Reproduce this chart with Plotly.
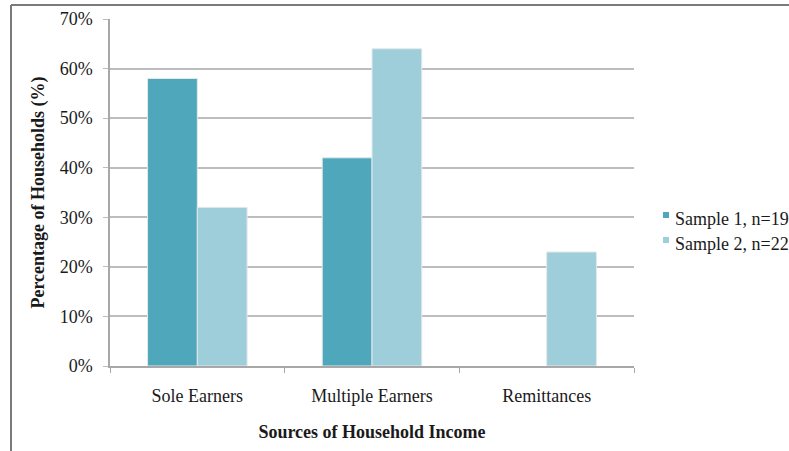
import plotly.graph_objects as go

# Household income sources by sample (percent of households)
categories = ["Sole Earners", "Multiple Earners", "Remittances"]
sample1_values = [58, 42, None]
sample2_values = [32, 64, 23]
series_names = ["Sample 1, n=19", "Sample 2, n=22"]
series_colors = ["#4FA7BB", "#9FCEDB"]
y_ticks = [0, 10, 20, 30, 40, 50, 60, 70]
y_tick_labels = ["0%", "10%", "20%", "30%", "40%", "50%", "60%", "70%"]

FONT = "Liberation Serif, Times New Roman, serif"
W, H = 789, 451
L, R, T, B = 110, 155, 19, 85
pw = W - L - R
ph = H - T - B


def px_x(px):
    return (px - L) / pw


def px_y(py):
    return (H - B - py) / ph


fig = go.Figure()
for vals, name, col in zip([sample1_values, sample2_values], series_names, series_colors):
    fig.add_trace(go.Bar(
        x=categories, y=vals, name=name, showlegend=False,
        marker=dict(color=col, line=dict(color="#E4E9EA", width=1)),
    ))

# legend: small square keys with labels to their right
shapes = []
annotations = []
for i, (name, col) in enumerate(zip(series_names, series_colors)):
    top = 212 + 25 * i
    shapes.append(dict(type="rect", xref="paper", yref="paper",
                       x0=px_x(663), x1=px_x(669), y0=px_y(top + 6), y1=px_y(top),
                       fillcolor=col, line=dict(width=0)))
    annotations.append(dict(xref="paper", yref="paper", x=px_x(673), y=px_y(top + 7),
                            xanchor="left", yanchor="middle", showarrow=False,
                            text=name, font=dict(family=FONT, size=18, color="#1a1a1a")))

# outer frame (left and top edges)
shapes += [
    dict(type="line", xref="paper", yref="paper",
         x0=px_x(11), x1=px_x(W + 5), y0=px_y(5), y1=px_y(5),
         line=dict(color="#7A7A7A", width=2)),
    dict(type="line", xref="paper", yref="paper",
         x0=px_x(11), x1=px_x(11), y0=px_y(5), y1=px_y(H + 5),
         line=dict(color="#7A7A7A", width=2)),
]

fig.update_layout(
    width=W, height=H,
    margin=dict(l=L, r=R, t=T, b=B, pad=0),
    paper_bgcolor="white", plot_bgcolor="white",
    barmode="group", bargap=0.43, bargroupgap=0.0,
    font=dict(family=FONT, size=18, color="#1a1a1a"),
    showlegend=False,
    xaxis=dict(
        type="category", tickson="boundaries", ticks="outside", ticklen=5,
        tickcolor="#A8A8A8", showline=True, linecolor="#A8A8A8", linewidth=1.5,
        showgrid=False, tickfont=dict(family=FONT, size=18),
        ticklabelstandoff=13, automargin=False,
        title=dict(text="<b>Sources of Household Income</b>", standoff=20,
                   font=dict(family=FONT, size=18)),
    ),
    yaxis=dict(
        range=[0, 70], tickvals=y_ticks, ticktext=y_tick_labels,
        ticks="outside", ticklen=5, tickcolor="#BDBDBD",
        showline=True, linecolor="#A8A8A8", linewidth=1.5,
        showgrid=True, gridcolor="#BDBDBD", gridwidth=1.5, zeroline=False,
        tickfont=dict(family=FONT, size=18), ticklabelstandoff=7, automargin=False,
        title=dict(text="<b>Percentage of Households (%)</b>", standoff=10,
                   font=dict(family=FONT, size=18)),
    ),
    shapes=shapes,
    annotations=annotations,
)

fig.write_html("out.html")
